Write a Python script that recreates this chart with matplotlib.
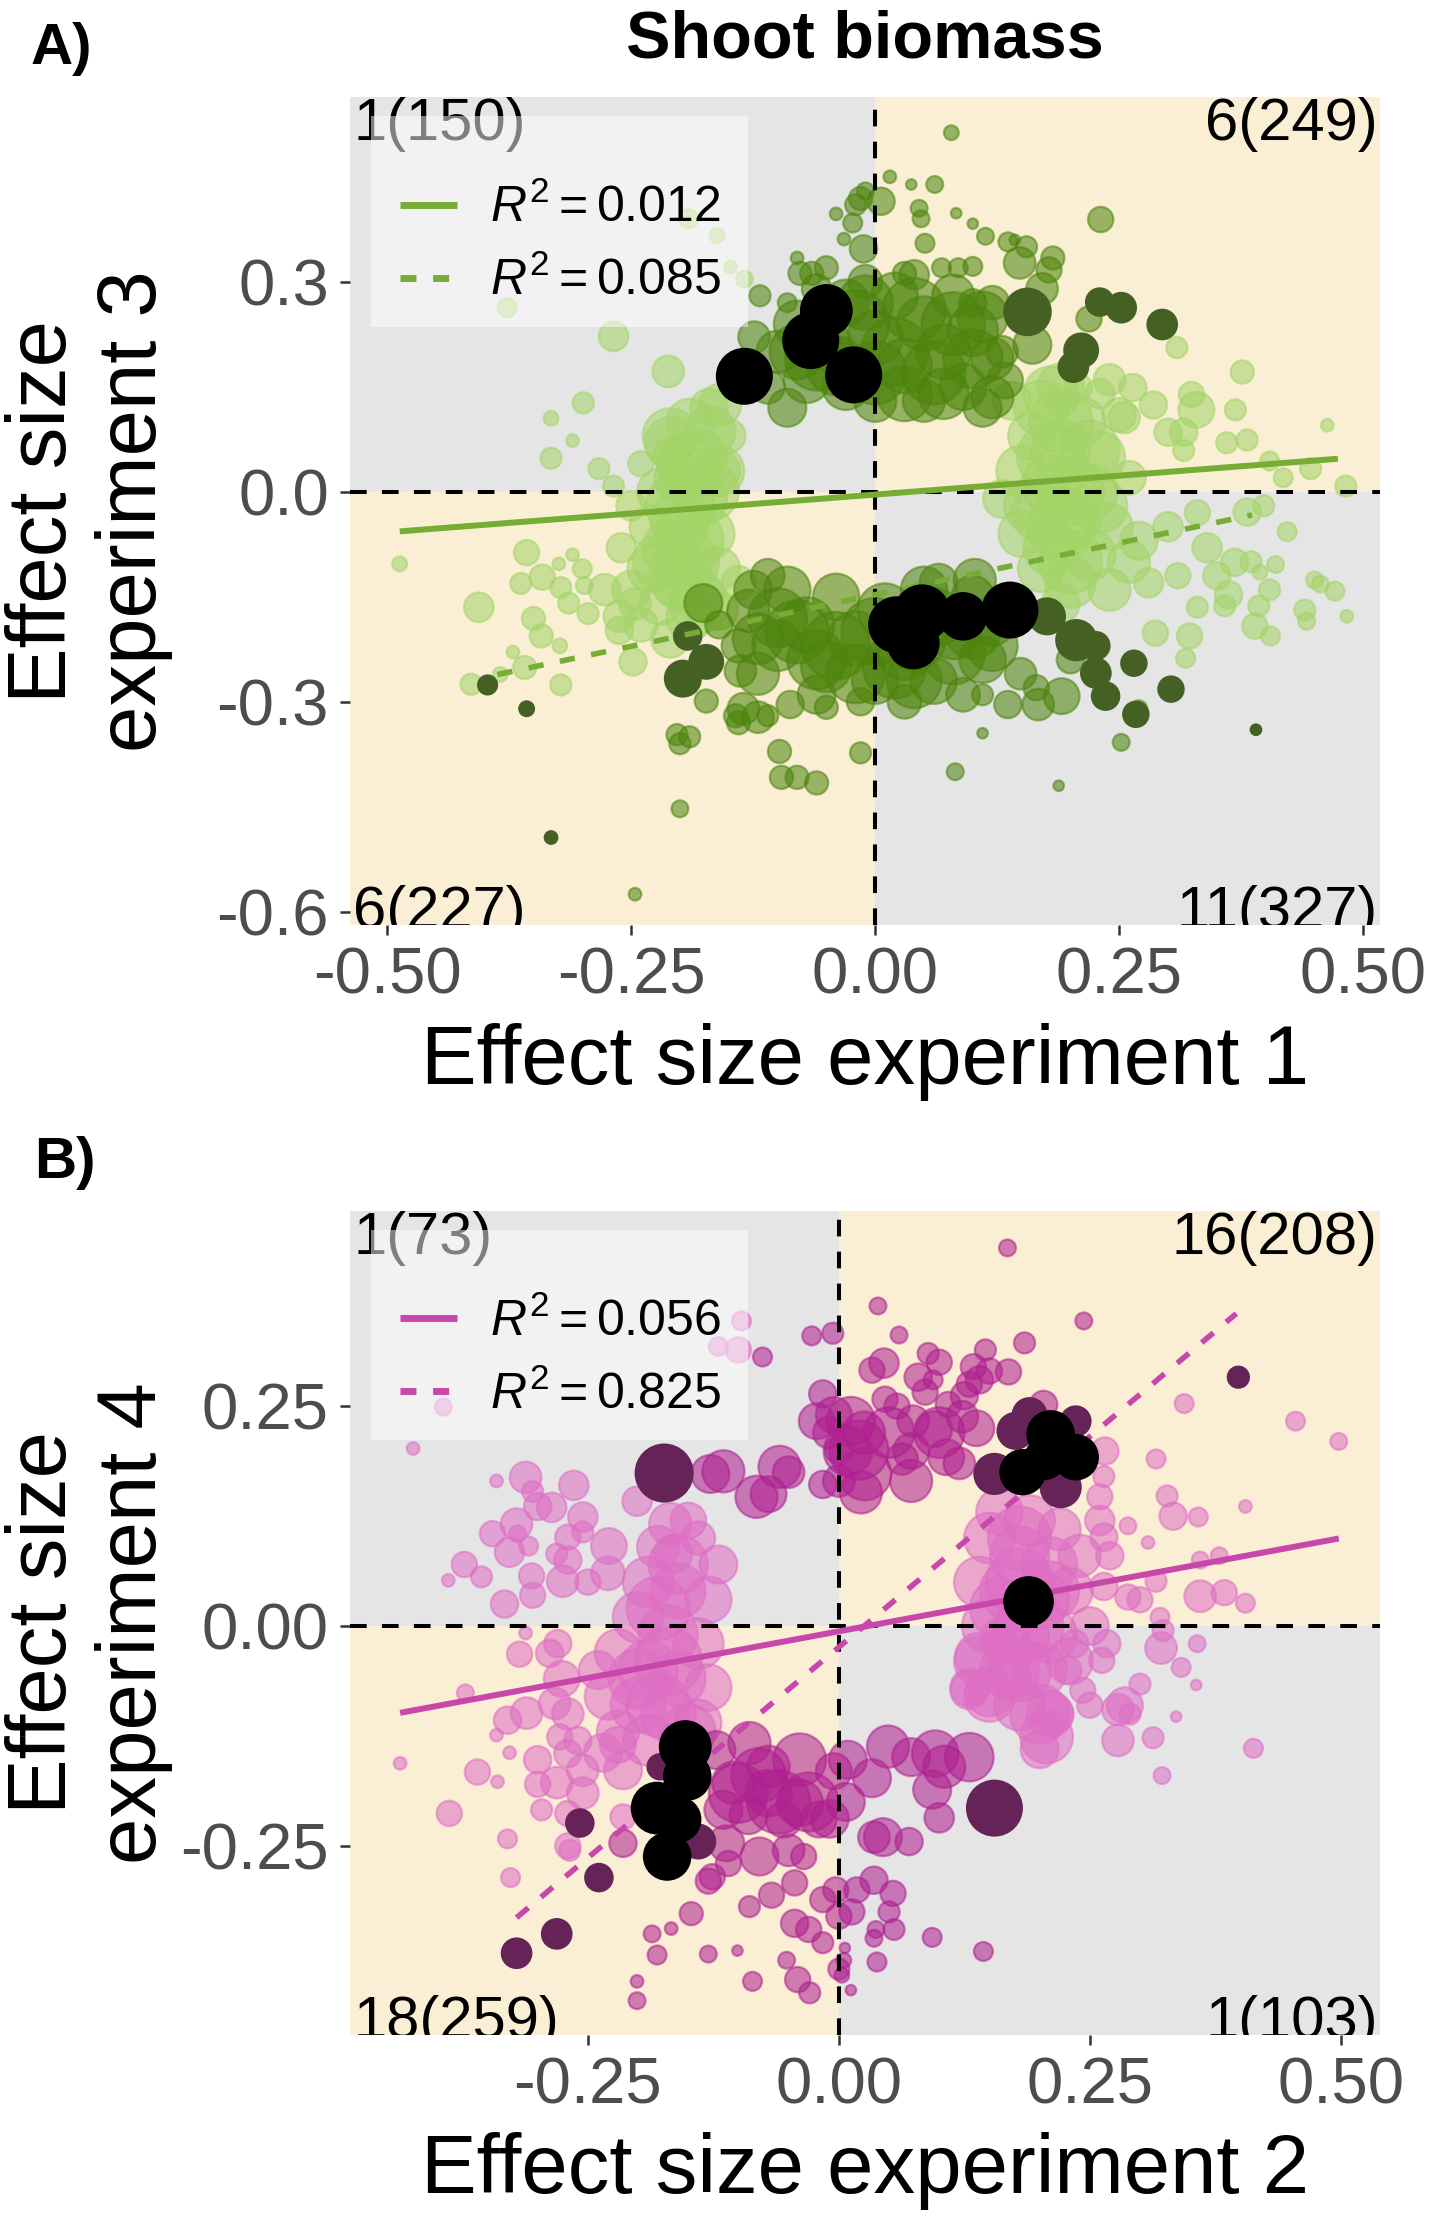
import numpy as np
import matplotlib
matplotlib.use("Agg")
import matplotlib.pyplot as plt
from matplotlib.lines import Line2D
from matplotlib.patches import Rectangle

plt.rcParams['font.family'] = ['Liberation Sans', 'DejaVu Sans']
plt.rcParams['axes.unicode_minus'] = False
plt.rcParams['mathtext.fontset'] = 'custom'
plt.rcParams['mathtext.rm'] = 'Liberation Sans'
plt.rcParams['mathtext.it'] = 'Liberation Sans:italic'
plt.rcParams['lines.scale_dashes'] = False

# ---- panel A: experiment 1 vs 3 (x, y, bubble weight) ----
a_light = np.array([
    (-0.19, 0.10, 22), (-0.17, 0.12, 18), (-0.21, 0.07, 24), (-0.18, 0.05, 26), (-0.20, 0.02, 24),
    (-0.22, 0.00, 22), (-0.18, -0.01, 26), (-0.20, -0.04, 28), (-0.23, -0.05, 20), (-0.17, -0.06, 24),
    (-0.21, -0.08, 26), (-0.19, -0.10, 28), (-0.16, -0.11, 20), (-0.23, -0.11, 22), (-0.20, -0.13, 26),
    (-0.18, -0.15, 24), (-0.22, -0.16, 20), (-0.19, -0.18, 22), (-0.16, -0.17, 18), (-0.24, -0.19, 16),
    (-0.21, -0.21, 18), (-0.14, -0.13, 16), (-0.25, -0.14, 18), (-0.26, -0.08, 14), (-0.25, -0.02, 14),
    (-0.15, 0.08, 16), (-0.16, 0.03, 20), (-0.24, 0.04, 12),
    (-0.19, 0.04, 30), (-0.20, -0.02, 32), (-0.19, -0.07, 32), (-0.20, -0.12, 30), (-0.18, -0.16, 28),
    (-0.21, 0.08, 26), (-0.17, 0.00, 28), (-0.22, -0.10, 26),
    (-0.159, 0.124, 20), (-0.169, 0.086, 24), (-0.208, 0.051, 18), (-0.160, 0.030, 24), (-0.201, 0.014, 18),
    (-0.212, 0.172, 15), (-0.268, 0.222, 14), (-0.299, 0.127, 10), (-0.332, 0.105, 7), (-0.310, 0.073, 6),
    (-0.332, 0.048, 10), (-0.283, 0.033, 10), (-0.268, 0.008, 10), (-0.377, 0.263, 9), (-0.191, 0.390, 9),
    (-0.162, 0.366, 7), (-0.148, 0.321, 6), (-0.134, 0.304, 8),
    (-0.487, -0.103, 7), (-0.406, -0.165, 14), (-0.357, -0.087, 12), (-0.341, -0.122, 12), (-0.363, -0.131, 10),
    (-0.324, -0.103, 6), (-0.322, -0.137, 10), (-0.298, -0.134, 8), (-0.350, -0.181, 11), (-0.342, -0.206, 11),
    (-0.323, -0.220, 7), (-0.371, -0.229, 6), (-0.359, -0.251, 11), (-0.384, -0.261, 7), (-0.414, -0.275, 10),
    (-0.322, -0.276, 10), (-0.248, -0.243, 13), (-0.314, -0.159, 10), (-0.294, -0.174, 10), (-0.262, -0.178, 15),
    (-0.277, -0.140, 15), (-0.262, -0.198, 13), (-0.246, -0.160, 15), (-0.310, -0.090, 6), (-0.300, -0.110, 9),
    (0.19, 0.15, 22), (0.17, 0.12, 26), (0.21, 0.10, 24), (0.16, 0.08, 22), (0.19, 0.06, 28),
    (0.23, 0.05, 24), (0.15, 0.03, 24), (0.18, 0.01, 28), (0.22, 0.00, 26), (0.16, -0.02, 26),
    (0.20, -0.04, 28), (0.24, -0.05, 22), (0.15, -0.06, 22), (0.18, -0.08, 26), (0.22, -0.09, 24),
    (0.26, -0.10, 20), (0.17, -0.11, 22), (0.20, -0.13, 24), (0.24, -0.14, 20), (0.19, -0.16, 18),
    (0.27, -0.07, 18), (0.26, 0.02, 16), (0.25, 0.11, 16), (0.14, 0.13, 18), (0.13, -0.01, 18),
    (0.28, -0.13, 14), (0.23, 0.14, 14),
    (0.19, 0.10, 30), (0.18, 0.05, 32), (0.20, 0.00, 32), (0.19, -0.05, 32), (0.20, -0.10, 30),
    (0.22, 0.06, 28), (0.17, -0.03, 28), (0.23, -0.02, 26), (0.18, 0.14, 26),
    (0.309, 0.206, 10), (0.376, 0.171, 11), (0.463, 0.095, 6), (0.482, 0.008, 10), (0.369, 0.117, 10),
    (0.324, 0.139, 12), (0.329, 0.117, 17), (0.381, 0.074, 10), (0.360, 0.070, 10), (0.404, 0.044, 9),
    (0.418, 0.020, 9), (0.446, 0.033, 10), (0.316, 0.059, 10), (0.316, 0.085, 13), (0.300, 0.085, 13),
    (0.285, 0.124, 13), (0.264, 0.149, 13), (0.255, 0.106, 15), (0.240, 0.160, 15), (0.208, 0.149, 13),
    (0.422, -0.057, 9), (0.410, -0.104, 8), (0.394, -0.115, 7), (0.404, -0.140, 10), (0.450, -0.126, 8),
    (0.456, -0.132, 8), (0.471, -0.142, 9), (0.483, -0.178, 6), (0.440, -0.169, 10), (0.442, -0.185, 8),
    (0.393, -0.163, 10), (0.389, -0.192, 12), (0.405, -0.206, 9), (0.287, -0.202, 12), (0.322, -0.206, 12),
    (0.318, -0.238, 9), (0.358, -0.163, 10), (0.330, -0.165, 10), (0.362, -0.147, 13), (0.368, -0.101, 13),
    (0.350, -0.120, 13), (0.385, -0.100, 10), (0.381, -0.029, 13), (0.398, -0.020, 10), (0.300, -0.050, 14),
    (0.330, -0.030, 12), (0.340, -0.080, 14), (0.310, -0.120, 12),
])

a_mid = np.array([
    (-0.10, 0.20, 20), (-0.08, 0.24, 22), (-0.07, 0.16, 22), (-0.05, 0.21, 24), (-0.03, 0.27, 22),
    (-0.03, 0.15, 22), (0.00, 0.22, 26), (0.00, 0.13, 20), (0.02, 0.28, 22), (0.03, 0.18, 26),
    (0.05, 0.24, 26), (0.05, 0.13, 20), (0.07, 0.20, 26), (0.08, 0.28, 20), (0.09, 0.15, 22),
    (0.10, 0.23, 24), (0.12, 0.19, 20), (0.12, 0.27, 16), (-0.11, 0.15, 16), (-0.09, 0.12, 18),
    (0.11, 0.12, 18), (-0.01, 0.30, 16), (0.04, 0.31, 14), (-0.06, 0.29, 14),
    (-0.06, 0.19, 30), (-0.02, 0.24, 32), (0.02, 0.20, 32), (0.06, 0.17, 30), (0.08, 0.24, 30),
    (0.04, 0.26, 30), (-0.04, 0.18, 28), (0.10, 0.19, 28), (0.00, 0.17, 30), (-0.08, 0.20, 26),
    (0.11, 0.25, 24), (0.03, 0.14, 26), (-0.01, 0.27, 26), (0.07, 0.14, 24),
    (0.078, 0.513, 7), (0.037, 0.439, 5), (0.061, 0.439, 8), (0.006, 0.415, 13), (0.045, 0.405, 8),
    (0.047, 0.390, 8), (0.083, 0.398, 5), (0.100, 0.383, 5), (0.113, 0.365, 8), (0.051, 0.355, 9),
    (0.136, 0.357, 9), (0.143, 0.360, 5), (0.148, 0.327, 15), (0.155, 0.350, 10), (0.182, 0.334, 11),
    (0.178, 0.317, 12), (0.171, 0.290, 15), (0.231, 0.389, 12), (0.219, 0.247, 12), (0.161, 0.210, 18),
    (0.133, 0.159, 17), (0.130, 0.200, 15), (0.120, 0.135, 20), (0.100, 0.270, 13), (0.068, 0.320, 9),
    (0.085, 0.320, 9), (0.100, 0.322, 9), (0.030, 0.312, 11), (-0.015, 0.419, 11), (-0.020, 0.410, 10),
    (-0.040, 0.397, 6), (-0.023, 0.384, 9), (-0.032, 0.361, 6), (-0.080, 0.334, 6), (-0.118, 0.280, 10),
    (-0.124, 0.221, 15), (-0.090, 0.270, 9), (-0.077, 0.312, 11), (-0.065, 0.312, 11), (-0.050, 0.320, 11),
    (-0.012, 0.347, 13), (0.015, 0.450, 6), (-0.010, 0.430, 8),
    (-0.13, -0.17, 20), (-0.10, -0.22, 24), (-0.09, -0.14, 22), (-0.07, -0.19, 26), (-0.05, -0.25, 24),
    (-0.04, -0.15, 22), (-0.02, -0.21, 26), (0.00, -0.27, 22), (0.01, -0.17, 26), (0.03, -0.23, 26),
    (0.05, -0.14, 22), (0.06, -0.27, 22), (0.08, -0.20, 26), (0.10, -0.15, 20), (0.11, -0.24, 22),
    (0.12, -0.19, 20), (-0.12, -0.26, 20), (-0.14, -0.22, 16), (-0.06, -0.29, 18), (0.03, -0.30, 16),
    (0.09, -0.29, 16), (-0.11, -0.12, 16),
    (-0.08, -0.20, 30), (-0.04, -0.22, 32), (0.00, -0.20, 32), (0.04, -0.21, 30), (0.08, -0.23, 30),
    (-0.10, -0.18, 28), (0.02, -0.25, 30), (-0.02, -0.26, 28), (0.06, -0.18, 28), (0.10, -0.20, 26),
    (-0.06, -0.24, 28), (0.12, -0.22, 24), (-0.12, -0.21, 24), (0.04, -0.27, 26),
    (-0.176, -0.159, 18), (-0.160, -0.190, 13), (-0.125, -0.140, 18), (-0.138, -0.256, 15), (-0.173, -0.299, 11),
    (-0.143, -0.320, 11), (-0.135, -0.310, 15), (-0.120, -0.322, 15), (-0.110, -0.320, 10), (-0.140, -0.330, 11),
    (-0.087, -0.304, 13), (-0.050, -0.308, 11), (-0.015, -0.300, 13), (-0.015, -0.373, 10), (-0.203, -0.347, 10),
    (-0.190, -0.350, 10), (-0.200, -0.360, 10), (-0.098, -0.371, 11), (-0.096, -0.408, 11), (-0.080, -0.408, 11),
    (-0.060, -0.416, 11), (-0.200, -0.453, 8), (-0.246, -0.575, 6), (0.149, -0.260, 15), (0.136, -0.304, 13),
    (0.167, -0.304, 15), (0.191, -0.292, 17), (0.110, -0.290, 10), (0.200, -0.240, 13), (0.220, -0.220, 13),
    (0.230, -0.260, 10), (0.165, -0.280, 12), (0.252, -0.358, 8), (0.110, -0.345, 5), (0.082, -0.400, 8),
    (0.188, -0.420, 5), (0.270, -0.310, 8), (0.102, -0.126, 20), (0.065, -0.130, 18),
])

a_dark = np.array([
    (0.156, 0.257, 23), (0.230, 0.271, 14), (0.252, 0.263, 15), (0.294, 0.239, 15), (0.211, 0.202, 17),
    (0.203, 0.178, 15), (-0.192, -0.206, 14), (-0.173, -0.243, 17), (-0.197, -0.267, 18), (-0.397, -0.276, 10),
    (-0.357, -0.310, 8), (-0.332, -0.494, 7), (0.176, -0.178, 18), (0.206, -0.212, 20), (0.226, -0.220, 14),
    (0.226, -0.259, 15), (0.236, -0.292, 14), (0.265, -0.245, 13), (0.303, -0.282, 13), (0.267, -0.318, 13),
    (0.390, -0.340, 6),
])

a_black = np.array([
    (-0.134, 0.165, 27), (-0.066, 0.216, 27), (-0.050, 0.259, 25), (-0.022, 0.167, 27),
    (0.022, -0.190, 27), (0.048, -0.173, 27), (0.039, -0.216, 25), (0.090, -0.178, 23), (0.138, -0.169, 27),
])

# ---- panel B: experiment 2 vs 4 ----
b_light = np.array([
    (-0.097, 0.347, 9), (-0.120, 0.318, 9), (-0.100, 0.314, 12), (-0.394, 0.249, 8), (-0.424, 0.202, 6),
    (-0.341, 0.165, 6), (-0.312, 0.169, 15), (-0.305, 0.153, 10), (-0.264, 0.160, 14), (-0.286, 0.135, 14),
    (-0.300, 0.136, 13), (-0.255, 0.124, 14), (-0.321, 0.116, 15), (-0.345, 0.105, 12), (-0.320, 0.105, 8),
    (-0.328, 0.084, 14), (-0.309, 0.091, 9), (-0.270, 0.101, 12), (-0.255, 0.107, 10), (-0.229, 0.091, 17),
    (-0.281, 0.082, 10), (-0.270, 0.075, 13), (-0.373, 0.070, 12), (-0.356, 0.056, 10), (-0.389, 0.052, 6),
    (-0.306, 0.057, 12), (-0.305, 0.035, 12), (-0.333, 0.025, 13), (-0.275, 0.051, 15), (-0.250, 0.050, 12),
    (-0.201, 0.142, 14), (-0.168, 0.116, 20), (-0.150, 0.120, 17), (-0.165, 0.082, 18),
    (-0.19, 0.05, 24), (-0.16, 0.04, 26), (-0.13, 0.03, 22), (-0.20, 0.01, 24), (-0.17, -0.01, 28),
    (-0.14, -0.02, 24), (-0.22, -0.03, 22), (-0.19, -0.05, 28), (-0.16, -0.06, 26), (-0.13, -0.07, 22),
    (-0.23, -0.08, 22), (-0.20, -0.09, 26), (-0.17, -0.10, 26), (-0.14, -0.11, 22), (-0.22, -0.12, 20),
    (-0.19, -0.13, 24), (-0.24, -0.05, 18), (-0.12, 0.07, 18), (-0.18, 0.09, 20), (-0.14, 0.10, 16),
    (-0.23, 0.06, 16),
    (-0.18, 0.02, 30), (-0.17, -0.04, 32), (-0.18, -0.09, 30), (-0.16, 0.07, 28), (-0.20, -0.06, 28),
    (-0.15, -0.12, 26),
    (-0.312, -0.008, 6), (-0.318, -0.032, 12), (-0.372, -0.076, 8), (-0.330, -0.107, 13), (-0.311, -0.099, 15),
    (-0.341, -0.124, 6), (-0.328, -0.144, 6), (-0.437, -0.156, 6), (-0.360, -0.166, 12), (-0.340, -0.177, 6),
    (-0.388, -0.213, 12), (-0.330, -0.242, 9), (-0.327, -0.286, 9), (-0.300, -0.152, 13), (-0.300, -0.180, 12),
    (-0.296, -0.209, 10), (-0.278, -0.126, 12), (-0.270, -0.145, 13), (-0.281, -0.178, 15), (-0.260, -0.130, 13),
    (-0.255, -0.164, 15), (-0.255, -0.190, 15), (-0.270, -0.213, 12), (-0.268, -0.255, 10), (-0.270, -0.250, 12),
    (-0.235, -0.144, 18), (-0.215, -0.164, 18), (-0.220, -0.135, 17), (-0.215, -0.217, 12), (-0.283, -0.088, 15),
    (-0.288, -0.031, 13), (-0.280, -0.020, 13), (-0.276, -0.060, 17), (-0.270, -0.100, 15),
    (0.16, 0.13, 22), (0.19, 0.12, 24), (0.22, 0.11, 20), (0.15, 0.10, 24), (0.18, 0.08, 28),
    (0.21, 0.07, 26), (0.24, 0.08, 20), (0.14, 0.05, 24), (0.17, 0.04, 28), (0.20, 0.03, 28),
    (0.23, 0.04, 22), (0.15, 0.00, 26), (0.18, -0.01, 28), (0.21, -0.01, 26), (0.14, -0.04, 24),
    (0.17, -0.05, 28), (0.20, -0.05, 26), (0.23, -0.04, 22), (0.15, -0.08, 24), (0.18, -0.09, 24),
    (0.21, -0.10, 22), (0.13, -0.07, 18), (0.25, 0.00, 18), (0.26, 0.12, 14),
    (0.18, 0.10, 30), (0.18, 0.05, 32), (0.19, 0.00, 32), (0.18, -0.05, 30), (0.20, -0.10, 28),
    (0.16, 0.02, 28), (0.21, 0.04, 28),
    (0.344, 0.253, 9), (0.455, 0.233, 9), (0.498, 0.210, 8), (0.316, 0.190, 9), (0.265, 0.199, 13),
    (0.327, 0.148, 10), (0.333, 0.125, 13), (0.358, 0.124, 9), (0.405, 0.136, 6), (0.308, 0.095, 6),
    (0.288, 0.114, 8), (0.264, 0.101, 13), (0.270, 0.080, 13), (0.264, 0.045, 13), (0.288, 0.033, 12),
    (0.360, 0.034, 15), (0.384, 0.038, 12), (0.405, 0.026, 9), (0.379, 0.080, 8), (0.360, 0.075, 8),
    (0.316, 0.051, 10), (0.300, 0.030, 12), (0.320, 0.010, 9), (0.260, 0.147, 12), (0.264, 0.170, 10),
    (0.207, -0.126, 25), (0.200, -0.140, 18), (0.215, -0.100, 18), (0.243, -0.073, 12), (0.250, -0.090, 12),
    (0.278, -0.095, 15), (0.285, -0.090, 17), (0.278, -0.130, 15), (0.290, -0.100, 10), (0.300, -0.066, 10),
    (0.313, -0.127, 10), (0.322, -0.170, 8), (0.336, -0.103, 5), (0.356, -0.067, 5), (0.341, -0.047, 9),
    (0.357, -0.020, 8), (0.321, -0.025, 15), (0.323, -0.005, 10), (0.413, -0.139, 9), (0.262, -0.039, 12),
    (0.267, -0.020, 13), (0.235, -0.020, 13), (0.228, -0.050, 13), (0.130, -0.073, 18), (0.150, -0.075, 23),
    (0.140, -0.035, 23), (0.170, -0.055, 20), (0.166, -0.015, 23),
])

b_mid = np.array([
    (-0.076, 0.306, 9), (-0.027, 0.330, 9), (-0.006, 0.333, 10), (-0.128, 0.173, 18), (-0.115, 0.176, 20),
    (-0.082, 0.147, 20), (-0.070, 0.150, 17), (-0.059, 0.181, 20), (-0.050, 0.175, 15), (-0.016, 0.161, 13),
    (-0.016, 0.264, 13), (-0.022, 0.233, 17), (-0.005, 0.240, 17), (0.000, 0.200, 13), (0.000, 0.165, 15),
    (0.168, 0.430, 8), (0.039, 0.364, 8), (0.060, 0.331, 8), (0.244, 0.347, 8), (0.045, 0.299, 14),
    (0.033, 0.291, 12), (0.089, 0.310, 10), (0.100, 0.300, 12), (0.079, 0.283, 13), (0.094, 0.280, 9),
    (0.086, 0.266, 12), (0.146, 0.314, 10), (0.185, 0.322, 10), (0.134, 0.295, 12), (0.150, 0.290, 12),
    (0.169, 0.289, 12), (0.130, 0.275, 12), (0.125, 0.262, 13), (0.140, 0.280, 13), (0.046, 0.258, 12),
    (0.058, 0.250, 12), (0.109, 0.252, 12), (0.074, 0.233, 15), (0.095, 0.224, 17), (0.123, 0.238, 15),
    (0.137, 0.225, 17), (0.204, 0.252, 13), (0.012, 0.233, 23), (0.025, 0.220, 20), (0.009, 0.199, 23),
    (0.026, 0.173, 25), (0.022, 0.152, 20), (0.072, 0.199, 17), (0.072, 0.165, 20), (0.107, 0.192, 17),
    (0.120, 0.185, 15), (0.063, 0.190, 15), (-0.010, 0.220, 15),
    (0.020, 0.200, 28), (0.050, 0.220, 24), (0.100, 0.220, 24),
    (0.049, -0.137, 20), (0.072, -0.149, 18), (0.096, -0.145, 22), (0.130, -0.149, 23), (0.105, -0.160, 20),
    (0.093, -0.186, 18), (0.100, -0.218, 14), (0.033, -0.173, 18), (0.009, -0.152, 18), (0.007, -0.200, 18),
    (0.044, -0.240, 18), (0.035, -0.240, 15), (0.070, -0.245, 13), (0.035, -0.289, 13), (0.054, -0.304, 12),
    (0.018, -0.300, 12), (0.013, -0.325, 12), (0.050, -0.325, 10), (0.037, -0.345, 8), (0.055, -0.345, 10),
    (0.035, -0.355, 8), (0.093, -0.354, 9), (0.144, -0.370, 9), (0.038, -0.382, 9), (0.005, -0.380, 7),
    (0.003, -0.397, 7), (0.012, -0.414, 5), (0.006, -0.366, 5),
    (-0.122, -0.141, 18), (-0.089, -0.133, 20), (-0.039, -0.152, 25), (-0.070, -0.160, 20), (-0.105, -0.178, 20),
    (-0.070, -0.190, 22), (-0.039, -0.201, 22), (-0.009, -0.219, 18), (-0.005, -0.165, 17), (-0.115, -0.209, 18),
    (-0.090, -0.215, 18), (-0.055, -0.220, 17), (-0.020, -0.220, 17), (-0.112, -0.247, 17), (-0.079, -0.262, 18),
    (-0.050, -0.255, 15), (-0.035, -0.262, 12), (-0.126, -0.285, 12), (-0.130, -0.290, 12), (-0.110, -0.270, 12),
    (-0.10, -0.19, 28), (-0.06, -0.20, 30), (-0.03, -0.20, 28), (-0.08, -0.17, 26),
    (-0.089, -0.319, 10), (-0.067, -0.306, 12), (-0.044, -0.292, 12), (-0.016, -0.311, 12), (-0.003, -0.300, 12),
    (-0.044, -0.338, 13), (-0.030, -0.345, 12), (-0.016, -0.360, 10), (-0.041, -0.402, 12), (-0.029, -0.417, 10),
    (-0.052, -0.380, 8), (-0.086, -0.404, 9), (-0.101, -0.369, 5), (-0.130, -0.373, 8), (-0.147, -0.327, 11),
    (-0.167, -0.344, 6), (-0.186, -0.350, 8), (-0.181, -0.374, 9), (-0.201, -0.404, 6), (-0.201, -0.426, 8),
    (-0.215, -0.247, 13), (0.000, -0.330, 12), (0.000, -0.390, 10),
])

b_dark = np.array([
    (-0.174, 0.174, 28), (0.398, 0.283, 11), (0.176, 0.222, 18), (0.155, 0.173, 20), (0.236, 0.233, 15),
    (0.221, 0.158, 20), (0.190, 0.240, 17), (0.155, -0.207, 27), (-0.258, -0.224, 14), (-0.239, -0.286, 14),
    (-0.281, -0.350, 15), (-0.321, -0.372, 15), (-0.178, -0.160, 13), (-0.140, -0.245, 17),
])

b_black = np.array([
    (0.211, 0.218, 23), (0.183, 0.175, 22), (0.236, 0.192, 22), (0.205, 0.190, 20), (0.189, 0.028, 24),
    (-0.153, -0.137, 25), (-0.151, -0.171, 23), (-0.181, -0.207, 25), (-0.160, -0.220, 22), (-0.171, -0.262, 23),
])

# regression fits: slope, intercept, x from, x to
a_fit_all = (0.108, -0.004, -0.487, 0.474)
a_fit_sig = (0.295, -0.147, -0.387, 0.386)
b_fit_all = (0.212, -0.006, -0.437, 0.498)
b_fit_sig = (0.958, -0.024, -0.321, 0.396)
a_r2 = ["0.012", "0.085"]
b_r2 = ["0.056", "0.825"]
a_counts = ["1(150)", "6(249)", "6(227)", "11(327)"]
b_counts = ["1(73)", "16(208)", "18(259)", "1(103)"]

a_xticks = [-0.50, -0.25, 0.00, 0.25, 0.50]
a_xlabels = ["-0.50", "-0.25", "0.00", "0.25", "0.50"]
a_yticks = [-0.6, -0.3, 0.0, 0.3]
a_ylabels = ["-0.6", "-0.3", "0.0", "0.3"]
b_xticks = [-0.25, 0.00, 0.25, 0.50]
b_xlabels = ["-0.25", "0.00", "0.25", "0.50"]
b_yticks = [-0.25, 0.00, 0.25]
b_ylabels = ["-0.25", "0.00", "0.25"]

GRAY = "#E5E5E5"
BEIGE = "#FAEFD4"


def bubbles(ax, pts, color, alpha, z):
    s = (1.52 * pts[:, 2]) ** 2
    if alpha < 1:
        ax.scatter(pts[:, 0], pts[:, 1], s=s, facecolor=color, edgecolor=color,
                   alpha=alpha, linewidths=1.6, zorder=z)
    else:
        ax.scatter(pts[:, 0], pts[:, 1], s=s, color=color, linewidths=0, zorder=z)


def panel(ax, light, mid, dark, black, cols, fits, r2, counts, lim, ticks, xlab, ylab):
    xlim, ylim = lim
    ax.set_xlim(xlim)
    ax.set_ylim(ylim)
    for sp in ax.spines.values():
        sp.set_visible(False)
    # quadrant shading
    ax.add_patch(Rectangle((xlim[0], 0), -xlim[0], ylim[1], color=GRAY, zorder=0, lw=0))
    ax.add_patch(Rectangle((0, ylim[0]), xlim[1], -ylim[0], color=GRAY, zorder=0, lw=0))
    ax.add_patch(Rectangle((0, 0), xlim[1], ylim[1], color=BEIGE, zorder=0, lw=0))
    ax.add_patch(Rectangle((xlim[0], ylim[0]), -xlim[0], -ylim[0], color=BEIGE, zorder=0, lw=0))

    bubbles(ax, light, cols[0], 0.56, 2)
    bubbles(ax, mid, cols[1], 0.56, 2.1)
    bubbles(ax, dark, cols[2], 1.0, 2.2)

    ax.axhline(0, color="black", lw=2.9, dashes=(12, 11), zorder=3)
    ax.axvline(0, color="black", lw=2.9, dashes=(12, 11), zorder=3)

    for (m, b, x0, x1), dash in zip(fits, [None, (11, 12)]):
        xs = np.array([x0, x1])
        ln, = ax.plot(xs, m * xs + b, color=cols[3], lw=4.3 if dash is None else 4.0,
                      solid_capstyle="butt", zorder=4)
        if dash:
            ln.set_dashes(dash)

    bubbles(ax, black, "black", 1.0, 5)

    kw = dict(transform=ax.transAxes, fontsize=43, color="black", zorder=6, clip_on=True)
    ax.text(0.003, 1.0, counts[0], ha="left", va="top", **kw)
    ax.text(0.998, 1.0, counts[1], ha="right", va="top", **kw)
    ax.text(0.003, -0.004, counts[2], ha="left", va="baseline", **kw)
    ax.text(0.998, -0.004, counts[3], ha="right", va="baseline", **kw)

    # legend box
    ax.add_patch(Rectangle((0.02, 0.722), 0.366, 0.255, transform=ax.transAxes,
                           facecolor="white", alpha=0.5, lw=0, zorder=7))
    h1 = Line2D([], [], color=cols[3], lw=5, solid_capstyle="butt")
    h2 = Line2D([], [], color=cols[3], lw=5, dashes=(11.5, 12))
    leg = ax.legend([h1, h2], [rf"$R^2 = {r2[0]}$", rf"$R^2 = {r2[1]}$"],
                    loc="upper left", bbox_to_anchor=(0.0485, 0.895), borderaxespad=0,
                    borderpad=0, frameon=False, fontsize=36, handlelength=1.15,
                    handletextpad=0.65, labelspacing=0.5)
    leg.set_zorder(8)

    ax.set_xticks(ticks[0])
    ax.set_xticklabels(ticks[1])
    ax.set_yticks(ticks[2])
    ax.set_yticklabels(ticks[3])
    ax.tick_params(length=7.2, width=1.8, color="#333333", labelcolor="#4D4D4D",
                   labelsize=47, pad=8)
    ax.set_xlabel(xlab, fontsize=60)
    ax.set_ylabel(ylab, fontsize=60, linespacing=1.2)
    ax.xaxis.set_label_coords(0.5, -0.118)
    ax.yaxis.set_label_coords(-0.172, 0.5)


fig = plt.figure(figsize=(14.46, 22.26), dpi=100)
axA = fig.add_axes([0.2420, 0.58445, 0.7123, 0.37197])
axB = fig.add_axes([0.2420, 0.08580, 0.7123, 0.37018])

panel(axA, a_light, a_mid, a_dark, a_black,
      ["#A3D467", "#4D840C", "#446123", "#77AC35"],
      [a_fit_all, a_fit_sig], a_r2, a_counts,
      ((-0.538, 0.517), (-0.619, 0.564)),
      (a_xticks, a_xlabels, a_yticks, a_ylabels),
      "Effect size experiment 1", "Effect size\nexperiment 3")

panel(axB, b_light, b_mid, b_dark, b_black,
      ["#DE6EC4", "#AF2090", "#662358", "#C847AA"],
      [b_fit_all, b_fit_sig], b_r2, b_counts,
      ((-0.487, 0.539), (-0.465, 0.472)),
      (b_xticks, b_xlabels, b_yticks, b_ylabels),
      "Effect size experiment 2", "Effect size\nexperiment 4")

fig.text(865 / 1446, 1 - 57 / 2226, "Shoot biomass", ha="center", va="baseline",
         fontsize=48, fontweight="bold")
fig.text(31 / 1446, 1 - 64 / 2226, "A)", ha="left", va="baseline", fontsize=42, fontweight="bold")
fig.text(34 / 1446, 1 - 1178 / 2226, "B)", ha="left", va="baseline", fontsize=42, fontweight="bold")

fig.savefig("out.png", dpi=100, facecolor="white")
